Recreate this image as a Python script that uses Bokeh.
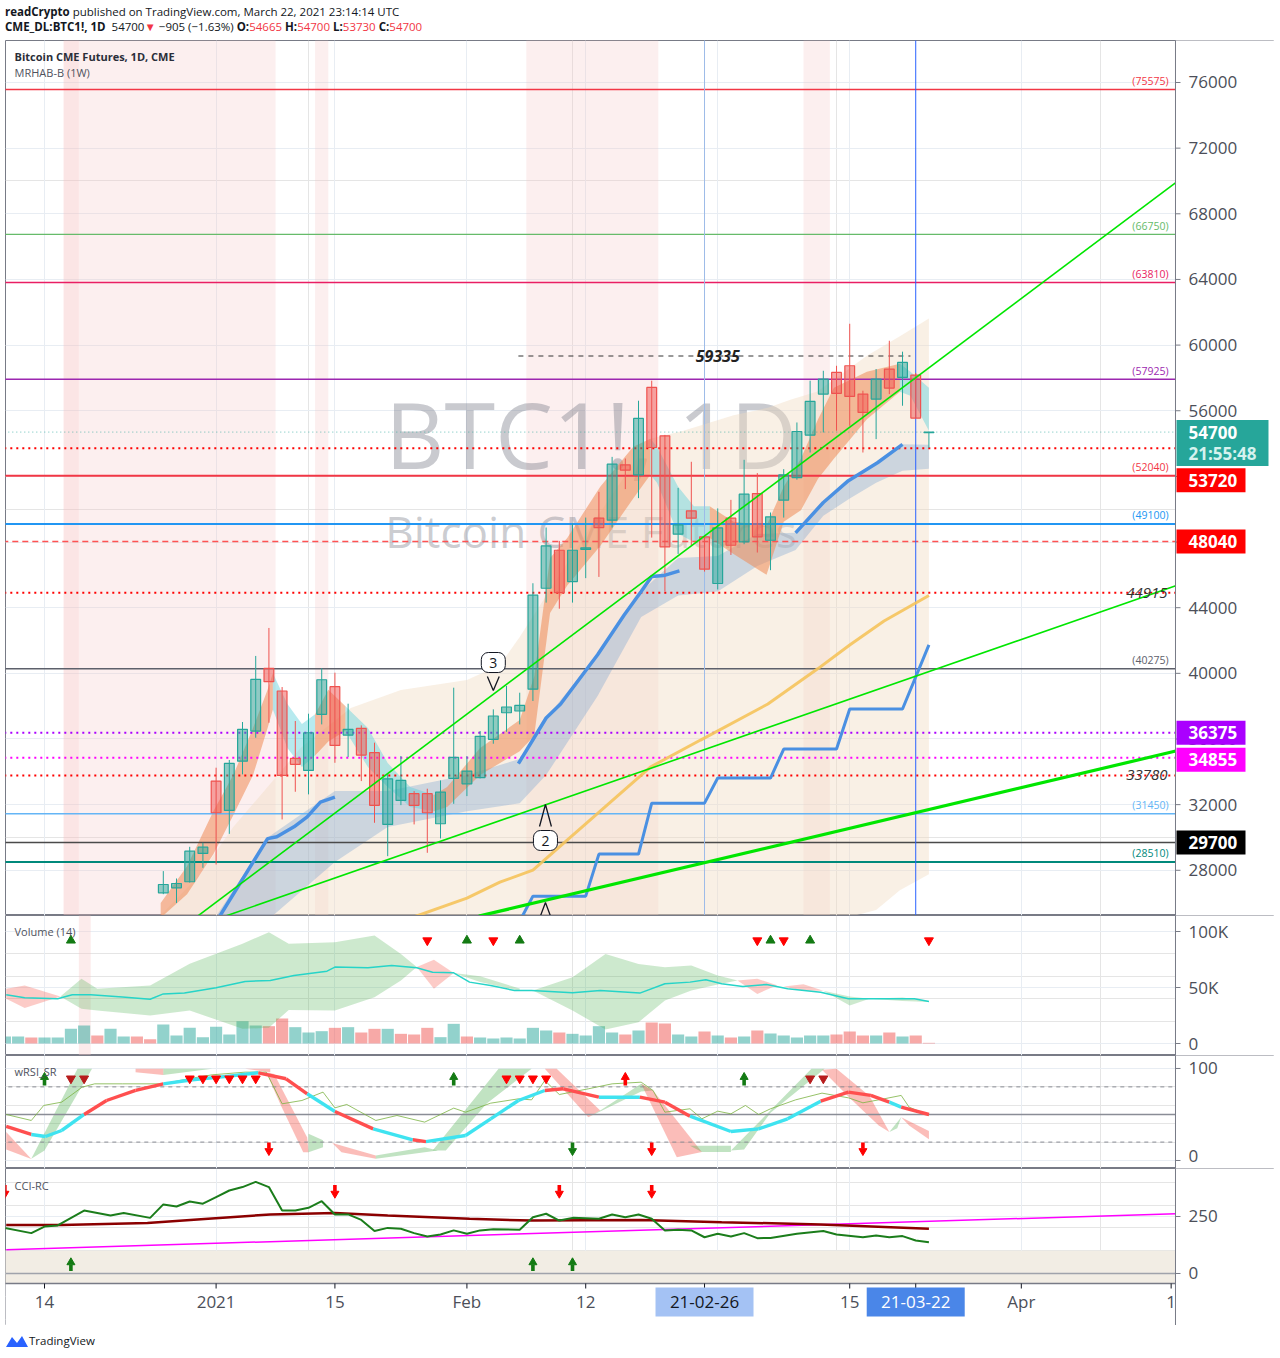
import numpy as np
from bokeh.plotting import figure
from bokeh.models import Range1d, FixedTicker, Label, Div, Grid
from bokeh.layouts import column
from bokeh.embed import file_html
from bokeh.resources import INLINE
from bokeh.core.properties import value

FONT = "Open Sans"
AXC = "#787b86"
TICKC = "#4c4f59"
GRIDC = "#e8edf3"
UP, DN = "#26a69a", "#ef5350"

# ---------------- x axis (bar index: 0 = 14 Dec 2020) ----------------
x_tick_idx = [0, 13, 22, 32, 41, 50, 61, 66, 74, 85.35]
x_tick_lbl = ["14", "2021", "15", "Feb", "12", "21-02-26", "15", "21-03-22", "Apr", "1"]
x_grid_idx = [0, 13, 22, 32, 41, 51, 61, 74]
marked_idx = [50, 66]

# ---------------- candles ----------------
bar_idx = list(range(9, 68))
opens = [26625, 26930, 27300, 29025, 33435, 31650, 34650, 36485, 40305, 38925, 34820, 34085, 37500, 39185,
         36240, 36650, 35165, 30795, 32255, 32665, 32665, 30835, 33600, 33270, 33640, 35980, 37600, 37705,
         39035, 45185, 47500, 45590, 47550, 49455, 49330, 52705, 52095, 57420, 54470, 48480, 49900, 48315,
         45475, 49455, 48010, 50955, 48110, 50550, 51930, 54515, 57015, 58335, 58740, 57015, 56710, 58540,
         58030, 58175, 54665]
highs = [27950, 27500, 29430, 29675, 34250, 34720, 37035, 41060, 42765, 39165, 37095, 37540, 40305, 40040,
         38150, 36830, 35775, 33845, 34960, 32825, 32970, 33475, 39125, 34960, 36485, 37805, 39230, 38820,
         45490, 48885, 48070, 49125, 49490, 51060, 53190, 53090, 56610, 57830, 54530, 51300, 52890, 48400,
         50050, 50570, 53010, 52200, 49800, 52440, 55285, 57830, 58435, 58740, 61300, 57220, 58540, 60265,
         59600, 58300, 54700]
lows = [26545, 26010, 27250, 28150, 28350, 30220, 33845, 36075, 36990, 31100, 32785, 32625, 36890, 34550,
        34900, 33435, 30895, 28860, 31970, 30795, 29065, 29940, 32050, 32520, 33600, 35710, 36440, 36890,
        38315, 44310, 43940, 44310, 45800, 45875, 48885, 51225, 50675, 48270, 44990, 47275, 47800, 46200,
        45110, 47215, 47870, 47360, 46285, 49490, 51800, 53455, 54675, 54780, 55085, 53455, 54270, 57015,
        56305, 55555, 53730]
closes = [27135, 27195, 29165, 29410, 31505, 34515, 36590, 39635, 39490, 33785, 34455, 36380, 39610, 35610,
          36590, 35020, 31955, 33575, 33475, 31955, 31505, 32765, 34880, 34045, 36160, 37400, 37950, 38050,
          44760, 47765, 44915, 47500, 47650, 48880, 52745, 52380, 55530, 53760, 47705, 49045, 49455, 46345,
          48860, 47805, 50915, 48315, 49535, 52095, 54735, 56570, 57930, 57060, 56870, 55895, 57930, 57380,
          58945, 55555, 54700]

price_ticks = [28000, 32000, 36000, 40000, 44000, 48000, 52000, 56000, 60000, 64000, 68000, 72000, 76000]

# horizontal levels
level_prices = [75575, 66750, 63810, 57925, 54700, 53720, 52040, 49100, 48040, 44915, 40275, 36375, 34855,
                33780, 31450, 29700, 28510]
level_tags = ["(75575)", "(66750)", "(63810)", "(57925)", "", "", "(52040)", "(49100)", "", "44915",
              "(40275)", "", "", "33780", "(31450)", "", "(28510)"]
box_prices = [54700, 53720, 48040, 36375, 34855, 29700]
countdown = "21:55:48"
dashed_level = 59335
dashed_span = [35.9, 65.6]

# moving averages / bands of the price pane
ma_a_x = [13.2, 16.9, 17.6, 18.9, 19.9, 20.9, 22.0]
ma_a_y = [25105, 29930, 30045, 30650, 31255, 32155, 32460]
ma_b_x = [35.9, 38.0, 39.1, 41.9, 43.9, 45.2, 46.0, 46.9, 48.1]
ma_b_y = [34500, 37280, 38130, 41130, 43545, 44990, 45905, 45955, 46240]
ma_c_x = [56.9, 59.0, 60.9, 63.1, 65.0]
ma_c_y = [48560, 50410, 51740, 52830, 53955]

cloud_x = [12.9, 16.9, 17.1, 22.0, 26.0, 32.0, 36.0, 38.0, 41.9, 45.2, 48.0, 51.0, 54.0, 56.9, 59.0, 61.0, 63.0, 65.0, 67.0]
cloud_hi = [25080, 29960, 30100, 32825, 32825, 33800, 34780, 37280, 41130, 44990, 47035, 47155, 48500, 48560, 50410, 51740, 52830, 53955, 53925]
cloud_lo = [24500, 24800, 25100, 28500, 30630, 31600, 32090, 33800, 38620, 43435, 44750, 44990, 46545, 47520, 49595, 50655, 51610, 52340, 52460]

slow_x = [27.7, 32, 34.5, 37, 42.1, 45.9, 49.7, 54.8, 58.6, 61, 63.6, 67]
slow_y = [25080, 26300, 27275, 28010, 31610, 34290, 35935, 38130, 40290, 41730, 43190, 44745]

wk_start = [32, 37, 42, 46, 51, 56, 61, 67]
wk_end = [36, 41, 45, 50, 55, 60, 65, 67]
wk_val = [24900, 26423, 28985, 32090, 33620, 35385, 37825, 41730]

env_hi_x = [8.5, 11.8, 14.3, 16.9, 19.4, 23.2, 27, 32, 34.5, 36, 41.6, 45.9, 48.4, 52.2, 54.8, 56.5, 58.5, 59.8, 62.3, 64.8, 67]
env_hi = [25000, 27765, 30630, 33070, 35450, 37890, 38985, 39590, 40510, 42215, 49230, 54290, 54780, 55720, 56180, 56670, 57160, 57890, 59350, 60535, 61620]
env_lo_x = [8.5, 61.2, 63, 64.8, 67]
env_lo = [24000, 25200, 25585, 26790, 27765]

fast_segments = [  # (state, x, upper, lower)
    ("s", [8.8, 10.8, 12.8, 14.3, 15.8, 16.9, 17.3], [26000, 28250, 31605, 33800, 36665, 39000, 40000],
     [25100, 26545, 28985, 31360, 33800, 36665, 37800]),
    ("c", [17.3, 18.4, 19.5, 20.5], [40000, 38130, 36910, 37500], [37800, 35450, 34290, 35000]),
    ("s", [20.5, 21.5, 22.8], [37500, 39000, 38000], [35000, 35850, 36500]),
    ("c", [22.8, 24.5, 26, 27.7, 29.5], [38000, 36665, 34530, 33070, 32580], [36500, 34290, 33070, 31850, 31600]),
    ("s", [29.5, 30.5, 33, 36, 37.1, 38.3, 39.6, 42.1, 44.6, 45.9],
     [32580, 33070, 35450, 37150, 39810, 47035, 48250, 51375, 53800, 54290],
     [31600, 31850, 33800, 35260, 36190, 43680, 45350, 47765, 50655, 52095]),
    ("c", [45.9, 46.4, 48, 49.2, 50.4], [54290, 53800, 51375, 50175, 50175], [52095, 51610, 48500, 48010, 48250]),
    ("s", [50.4, 52.2, 54.7, 56, 57.3, 58.6, 59.8, 62.3, 64.8],
     [50175, 49230, 49000, 51375, 53070, 55475, 57400, 58375, 58860],
     [48250, 47275, 46000, 49230, 49930, 51850, 53070, 55475, 57150]),
    ("c", [64.8, 65.6, 67], [58860, 58375, 57400], [57150, 56910, 54780]),
]

trend_lines = [((11.6, 25207), (85.7, 69900)), ((13.7, 25207), (85.7, 45330)), ((32.9, 25207), (85.7, 35265))]
hl_ranges = [(1.45, 17.5), (20.5, 21.5), (36.5, 46.5), (57.5, 59.5)]

# ---------------- volume pane ----------------
vol_ticks = [0, 50000, 100000]
vol_tick_lbl = ["0", "50K", "100K"]
vol_idx = list(range(-3, 68))
volumes = [6250, 6250, 5357, 5357, 5357, 13094, 16070, 7142, 13094, 6250, 6250, 3869, 16963, 7142, 13987,
           5654, 14880, 8035, 19939, 16070, 15475, 22320, 14582, 9821, 11011, 13987, 14582, 9821, 13094,
           13094, 8630, 8035, 13987, 5654, 17558, 6250, 5357, 4464, 5357, 4464, 13987, 11606, 9821, 8630,
           7142, 15475, 9821, 8035, 11606, 18749, 17856, 8035, 6250, 10714, 7142, 5357, 6250, 11606, 8928,
           7142, 5357, 7142, 7142, 8035, 10714, 7142, 7142, 9821, 6250, 7142, 595]
vol_dir = list("uuduuuuduu" "dduuuuuuuu" "dduuududdu" "ddduuduuuu" "uuduuuudud" "duudududuu" "uuudddudud" "d")
vol_ma_x = [-2.9, -1.5, 1.0, 2.1, 3.5, 5.9, 8.0, 9.0, 10.6, 13.0, 15.2, 17.1, 18.9, 21.4, 22.0, 24.5, 26.3, 28.2,
            29.4, 31.0, 32.2, 33.8, 35.6, 36.9, 40.0, 42.1, 45.1, 47.0, 48.9, 50.1, 51.3, 52.9, 54.7, 56.3,
            58.8, 60.9, 62.5, 65.9, 67.0]
vol_ma = [43.5, 40.8, 39.9, 43.5, 43.5, 41.6, 39.5, 44.3, 45.0, 49.8, 55.4, 56.3, 60.7, 64.6, 68.2, 67.6, 69.6,
          67.6, 63.7, 63.1, 54.8, 51.8, 47.3, 47.3, 45.3, 47.3, 45.0, 53.3, 54.8, 56.9, 53.3, 50.9, 52.7, 48.8,
          45.8, 39.9, 39.9, 39.9, 37.5]
vol_bands = [  # (state, x, upper K, lower K)
    ("d", [-2.9, -1.5, 1.2], [48.8, 51.8, 42.0], [39.9, 31.8, 42.0]),
    ("u", [1.2, 2.8, 4, 8, 11, 15, 17, 18.5, 22, 25, 27, 28.2],
     [42.0, 57.8, 48.8, 51.8, 71.1, 89.0, 99.4, 89.0, 90.5, 96.4, 80.0, 68.2],
     [42.0, 31.0, 29.5, 25.0, 29.5, 13.1, 14.0, 30.0, 29.5, 41.4, 56.3, 68.2]),
    ("d", [28.2, 29.5, 31.0], [68.2, 74.7, 63.0], [68.2, 48.8, 63.0]),
    ("u", [31, 33, 36], [63, 60, 49], [63, 55, 47]),
    ("u", [37, 40, 42.5, 45, 47, 49, 51, 52.5], [47.3, 59.2, 80, 71, 68, 69.6, 60.7, 56.3],
     [47.3, 29.5, 12.5, 19, 38.4, 47.3, 52.7, 56.3]),
    ("d", [52.5, 54, 55.5], [56.3, 57.8, 52], [56.3, 44.3, 52]),
    ("d", [56, 57.5, 59], [51, 53, 47], [51, 47, 47]),
    ("u", [59, 61, 62.5], [47, 42, 40], [47, 34, 40]),
    ("u", [62.5, 65, 67], [40, 41, 38], [40, 38, 37]),
]
vol_sig_up = [2, 32, 36, 55, 58]
vol_sig_dn = [29, 34, 54, 56, 67]

# ---------------- wRSI pane ----------------
rsi_ticks = [0, 100]
rsi_tick_lbl = ["0", "100"]
wrsi_x = [-2.9, -1.0, 0.07, 1.3, 3.0, 4.7, 6.9, 9.0, 11.2, 14.0, 16.2, 18.3, 19.9, 22.0, 24.9, 27.9, 28.9, 31.9,
          33.8, 35.9, 37.9, 39.3, 42.0, 45.1, 47.0, 48.9, 52.0, 54.1, 56.3, 58.8, 60.9, 62.6, 64.0, 64.9, 67]
wrsi_y = [37, 28.3, 26.1, 32.6, 50, 65.2, 76.1, 83.3, 87.7, 91.7, 95.3, 88.8, 72.5, 53.3, 34.4, 22.5, 20.5, 27.2,
          45.3, 65.2, 76.1, 77.9, 68.8, 68.8, 63.4, 48.2, 31.5, 34.4, 45.3, 64.5, 74.3, 70.7, 63.5, 58, 50]
wrsi_state = list("rcccrrrcccrrcrcrccccrrcrrccccrrrcr")
wsig_x = [-2.9, -1.0, -0.06, 1.3, 2.85, 3.8, 5.9, 9.0, 10.9, 12.7, 15.2, 16.8, 18.0, 19.5, 21.1, 22.0, 22.9, 25.1,
          26.7, 28.8, 31.0, 31.9, 33.8, 35.9, 36.9, 37.9, 39.0, 41.2, 43.0, 45.2, 46.1, 47.0, 48.9, 49.8, 51.0,
          52.0, 53.1, 54.1, 55.0, 56.9, 58.9, 60.9, 62.0, 63.6, 64.9, 65.5, 67.0]
wsig_y = [50, 43.5, 59.8, 63.4, 79.7, 83.3, 83.3, 83.3, 88.8, 93.1, 96, 96, 61.6, 65.2, 74.3, 57.2, 60.9, 43.5,
          48.9, 41.7, 56.9, 52.5, 62.3, 67, 65.9, 86.9, 71.7, 77.9, 83.3, 85.1, 76.1, 52.5, 56.2, 45.3, 53.6,
          50.7, 59.8, 50, 56.2, 65.9, 73.2, 68.1, 62.7, 67, 70.7, 58, 48.9]
wrsi_fills = [
    ("d", [-2.9, -1.0, -2.9], [31, 1.5, 12]),
    ("u", [-1.0, 2.5, 3.6, 0.0], [1.8, 99.6, 99.6, 10.9]),
    ("d", [6.9, 9.0, 9.0, 6.9], [99.6, 99.6, 93, 96]),
    ("u", [9.0, 12.7, 9.0], [93, 99.6, 99.6]),
    ("d", [15.2, 17.1, 17.1], [99.6, 99.6, 96]),
    ("d", [16.8, 17.4, 19.9, 20.0, 19.6, 17.9], [96, 94, 25, 9, 9, 60]),
    ("u", [20.0, 21.1, 21.1, 20.0], [29, 22, 14.5, 9]),
    ("d", [21.8, 25.1, 25.1, 22.5], [19, 5.5, 1.8, 9]),
    ("u", [25.1, 28.8, 29.8, 25.1], [5.5, 14.5, 10.9, 1.8]),
    ("u", [29.4, 34.4, 36.9, 33.5, 30.4], [10.9, 99.6, 99.6, 62, 10.9]),
    ("d", [37.9, 38.8, 42.1, 41.2], [99.6, 99.6, 54.3, 47.1]),
    ("u", [41.2, 42.1, 45.2, 46.1, 45.2], [47.1, 54.3, 83.3, 76.1, 75]),
    ("d", [45.2, 46.1, 49.8, 47.9], [83.3, 76.1, 9.1, 3.6]),
    ("u", [48.9, 52.0, 52.0, 49.8], [16, 16, 9.1, 9.1]),
    ("u", [52.0, 58.1, 59.1, 55.0, 53.0], [10.9, 99.6, 99.6, 52, 12]),
    ("d", [58.9, 60.0, 62.5, 64.0, 63.2, 61.0], [98.6, 99.6, 70, 31, 38, 68]),
    ("u", [64.0, 64.9, 64.6], [31, 47.1, 35]),
    ("d", [64.9, 67.0, 67.0, 65.5], [47.1, 32, 23, 38]),
]
wrsi_up_arrow = [0, 31, 53]
wrsi_dn_tri = [11, 12, 13, 14, 15, 16, 35, 36, 37, 38]
wrsi_dn_tri_dark = [2, 3, 58, 59]
wrsi_red_up = [44]
wrsi_bot_red = [17, 46, 62]
wrsi_bot_green = [40]
wrsi_levels = [80, 50, 20]

# ---------------- CCI pane ----------------
cci_ticks = [0, 250]
cci_tick_lbl = ["0", "250"]
cci_x = [-3, -1, 0, 1, 3, 5, 6, 8, 9, 10, 11, 12, 13, 14, 15, 16, 17, 18, 19, 20, 21, 22, 23, 24, 25, 26, 27,
         28, 29, 30, 31, 32, 33, 34, 36, 37, 38, 39, 40, 42, 43, 44, 45, 46, 47, 48, 49, 50, 51, 52, 53, 54,
         55, 57, 59, 60, 62, 63, 64, 65, 66, 67]
cci_y = [200, 177, 206, 211, 276, 254, 265, 244, 303, 294, 316, 306, 335, 364, 379, 402, 379, 276, 276, 288,
         317, 259, 259, 235, 186, 200, 196, 177, 162, 171, 189, 174, 189, 194, 192, 247, 262, 232, 244, 240,
         259, 247, 259, 240, 189, 192, 189, 159, 174, 162, 177, 155, 156, 174, 186, 171, 159, 167, 159, 164,
         145, 137]
cci_ma_x = [-2.9, 1.3, 7.8, 12.4, 17.1, 22.0, 26, 32.2, 36.9, 45.2, 51.3, 58.8, 67]
cci_ma = [213, 213, 221, 240, 259, 265, 254, 240, 232, 235, 225, 215, 196]
cci_trend = [(-2.9, 104), (85.7, 262)]
cci_zone = [-43.9, 100]
cci_top_red = [-3, 22, 39, 46]
cci_bot_green = [2, 37, 40]

# ---------------- geometry ----------------
BAR_PX = 13.2                 # pixels per bar
X0, XR = -2.955, 93.18        # full frame width (page x 5 .. 1274)
AXIS_X = 85.68                # price-scale edge (page x 1175)
P0, P1 = 25245, 78559
PS = (P1 - P0) / 875.0
W = 1269
xr = Range1d(X0, XR)


def px(n):
    return n / BAR_PX


def make_fig(h, y0, y1, yticks):
    f = figure(width=W, height=h, x_range=xr, y_range=Range1d(y0, y1), output_backend="svg",
               toolbar_location=None, x_axis_location=None, y_axis_location=None, min_border=0)
    f.outline_line_color = AXC
    f.border_fill_color = None
    f.background_fill_color = "white"
    f.add_layout(Grid(dimension=0, ticker=FixedTicker(ticks=x_grid_idx), grid_line_color=GRIDC))
    f.add_layout(Grid(dimension=1, ticker=FixedTicker(ticks=yticks), grid_line_color=GRIDC))
    return f


def price_scale(f, y0, y1, h, ticks, labels, nudge=None):
    upp = (y1 - y0) / h
    f.quad(left=AXIS_X, right=XR + 1, bottom=y0 - 10 * (y1 - y0), top=y1 + 10 * (y1 - y0),
           fill_color="white", line_alpha=0)
    f.segment(x0=AXIS_X, y0=y0 - 10 * (y1 - y0), x1=AXIS_X, y1=y1 + 10 * (y1 - y0), line_color=AXC, line_width=1)
    n = len(ticks)
    f.segment(x0=[AXIS_X] * n, y0=ticks, x1=[AXIS_X + px(5)] * n, y1=ticks, line_color=AXC, line_width=1)
    nudge = nudge or [0] * n
    f.text(x=[AXIS_X + px(13)] * n, y=[t + d * upp for t, d in zip(ticks, nudge)], text=labels,
           text_font=value(FONT), text_font_size="17px", text_color=TICKC, text_align="left",
           text_baseline="middle")


def arrows(f, xs, y, upp, down, color):
    n = len(xs)
    if n == 0:
        return
    s = 1 if down else -1
    f.rect(x=xs, y=[y + s * 4 * upp] * n, width=px(3.6), height=6, height_units="screen",
           fill_color=color, line_alpha=0)
    f.scatter(xs, [y - s * 1.5 * upp] * n, marker="inverted_triangle" if down else "triangle", size=8,
              color=color)


def lab(f, x, y, text, color="#131722", size="11px", style="normal", align="left", baseline="middle",
        bg=None, pad=None, border=None, radius=0):
    kw = dict(x=x, y=y, text=text, text_color=color, text_font_size=size, text_font_style=style,
              text_align=align, text_baseline=baseline, text_font=FONT)
    if bg:
        kw["background_fill_color"] = bg
    if pad is not None:
        kw["padding"] = pad
    if border:
        kw["border_line_color"] = border
        kw["border_line_width"] = 1
    if radius:
        kw["border_radius"] = radius
    f.add_layout(Label(**kw))


def yv(pix):
    return P1 - (pix - 40) * PS


# ================= price pane =================
pp = make_fig(875, P0, P1, price_ticks)

for (a, b) in hl_ranges:
    pp.quad(left=a, right=b, bottom=P0 - 5000, top=P1 + 5000, fill_color="#f5c6c6", fill_alpha=0.28, line_alpha=0)
pp.quad(left=hl_ranges[0][0], right=2.6, bottom=P0 - 5000, top=P1 + 5000, fill_color="#f7b5b5", fill_alpha=0.18, line_alpha=0)

pp.text(x=[41.4], y=[54614], text=["BTC1!, 1D"], text_font=value(FONT), text_font_size="92px",
        text_align="center", text_baseline="middle", text_color="#787b86", text_alpha=0.4)
pp.text(x=[41.4], y=[48703], text=["Bitcoin CME Futures"], text_font=value(FONT), text_font_size="44px",
        text_align="center", text_baseline="middle", text_color="#787b86", text_alpha=0.38)

env_px = list(env_hi_x) + list(env_lo_x[::-1])
env_py = list(env_hi) + list(env_lo[::-1])
pp.patch(env_px, env_py, fill_color="#f0dcc0", fill_alpha=0.42, line_alpha=0)
pp.varea(x=cloud_x, y1=cloud_lo, y2=cloud_hi, fill_color="#6f9fd0", fill_alpha=0.33)
for st, xs, hi, lo in fast_segments:
    if st == "s":
        pp.varea(x=xs, y1=lo, y2=hi, fill_color="#ee8a55", fill_alpha=0.55)
    else:
        pp.varea(x=xs, y1=lo, y2=hi, fill_color="#5fd0dc", fill_alpha=0.45)

lvl_color = ["#f23645", "#66bb6a", "#e91e63", "#9c27b0", "#26a69a", "#ff0000", "#f23645", "#2196f3", "#ff5252",
             "#ff0000", "#5d606b", "#aa00ff", "#ff00ff", "#ff0000", "#64b5f6", "#4a4a4a", "#00897b"]
lvl_dash = ["solid", "solid", "solid", "solid", "1 3", "2 4", "solid", "solid", "6 4", "2 4", "solid", "2 4",
            "2 4", "2 4", "solid", "solid", "solid"]
lvl_width = [1.5, 1.2, 1.5, 1.5, 1, 2, 2, 2, 1.5, 2, 1.5, 2, 2, 2, 1.5, 1.5, 2]
for pr, c, d, w in zip(level_prices, lvl_color, lvl_dash, lvl_width):
    pp.segment(x0=X0 - 1, y0=pr, x1=AXIS_X, y1=pr, line_color=c, line_dash=d, line_width=w,
               line_alpha=0.7 if pr == 54700 else 1.0)
pp.segment(x0=dashed_span[0], y0=dashed_level, x1=dashed_span[1], y1=dashed_level, line_color="#333333",
           line_dash="5 5", line_width=1)

pp.segment(x0=marked_idx[0], y0=P0 - 5000, x1=marked_idx[0], y1=P1 + 5000, line_color="#9dbbe8", line_width=1)
pp.segment(x0=marked_idx[1], y0=P0 - 5000, x1=marked_idx[1], y1=P1 + 5000, line_color="#2962ff", line_width=1)

cx = np.array(bar_idx, dtype=float)
o, h, l, c = (np.array(a, dtype=float) for a in (opens, highs, lows, closes))
up = c >= o
for m, col in ((up, UP), (~up, DN)):
    pp.segment(x0=cx[m], y0=h[m], x1=cx[m], y1=l[m], line_color=col, line_width=1)
    pp.vbar(x=cx[m], top=np.maximum(o, c)[m], bottom=np.minimum(o, c)[m], width=0.74, fill_color=col,
            fill_alpha=0.5, line_color=col, line_width=1.2)

for xs, ys in ((ma_a_x, ma_a_y), (ma_b_x, ma_b_y), (ma_c_x, ma_c_y)):
    pp.line(xs, ys, line_color="#4a90e2", line_width=3.5)
pp.line(slow_x, slow_y, line_color="#f5c35b", line_width=3, line_alpha=0.9)
stx, sty = [], []
for a, b, v in zip(wk_start, wk_end, wk_val):
    stx += [a, b]
    sty += [v, v]
pp.line(stx, sty, line_color="#4a90e2", line_width=3)

for i, ((xa_, ya_), (xb, yb)) in enumerate(trend_lines):
    pp.line([xa_, xb], [ya_, yb], line_color="#00e600", line_width=3.2 if i == 2 else 1.6)

lab(pp, 34.0, yv(662), "3", size="14px", align="center", bg="white", pad=dict(left=8, right=8, top=5, bottom=5),
    border="#131722", radius=7)
pp.line([33.55, 34.0, 34.45], [yv(676), yv(690), yv(676)], line_color="#131722", line_width=1.3)
lab(pp, 37.95, yv(840), "2", size="14px", align="center", bg="white", pad=dict(left=8, right=8, top=5, bottom=5),
    border="#131722", radius=7)
pp.line([37.5, 37.95, 38.4], [yv(826), yv(804), yv(826)], line_color="#131722", line_width=1.3)
pp.line([37.5, 37.95, 38.4], [yv(918), yv(902), yv(918)], line_color="#131722", line_width=1.3)

tag_color = dict(zip(level_prices, lvl_color))
for pr, t in zip(level_prices, level_tags):
    if not t:
        continue
    if t.startswith("("):
        lab(pp, 85.15, pr + 1.5 * PS, t, color=tag_color[pr], size="10.5px", align="right", baseline="bottom")
    else:
        lab(pp, 85.08, pr, t, color="#333333", size="15px", style="italic", align="right")
lab(pp, 51.0, dashed_level, str(dashed_level), color="#222222", size="16px", style="bold italic", align="center")

lab(pp, -2.27, yv(56), "Bitcoin CME Futures, 1D, CME", size="11px", style="bold", color="#2a2e39")
lab(pp, -2.27, yv(72), "MRHAB-B (1W)", size="11px", color="#50535e")

# price scale with the marked price boxes
price_scale(pp, P0, P1, 875, price_ticks, [str(t) for t in price_ticks])
box_color = [UP, "#ff0000", "#ff0000", "#aa00ff", "#ff00ff", "#000000"]
box_shift = [0, 32, 0, 0, 2, 0]
for pr, col, dy in zip(box_prices, box_color, box_shift):
    yc = pr - dy * PS
    if pr == box_prices[0]:
        pp.quad(left=AXIS_X + px(1), right=AXIS_X + px(93), top=yc + 12 * PS, bottom=yc - 34 * PS,
                fill_color=col, line_alpha=0)
        pp.text(x=[AXIS_X + px(13)], y=[yc - 21 * PS], text=[countdown], text_font=value(FONT),
                text_font_size="17px", text_font_style="bold", text_color="#d5f2ee", text_baseline="middle")
    else:
        pp.quad(left=AXIS_X + px(1), right=AXIS_X + px(70), top=yc + 12 * PS, bottom=yc - 12 * PS,
                fill_color=col, line_alpha=0)
    pp.text(x=[AXIS_X + px(13)], y=[yc], text=[str(pr)], text_font=value(FONT), text_font_size="17px",
            text_font_style="bold", text_color="white", text_baseline="middle")

# ================= volume pane =================
V0, V1 = -10714, 114286
pv = make_fig(140, V0, V1, vol_ticks)
pv.quad(left=2.6, right=3.5, bottom=-20000, top=200000, fill_color="#f5c6c6", fill_alpha=0.35, line_alpha=0)
vi = np.array(vol_idx, dtype=float)
vv = np.array(volumes, dtype=float)
vd = np.array(vol_dir)
for key, col in (("u", UP), ("d", DN)):
    m = vd == key
    pv.vbar(x=vi[m], top=vv[m], bottom=0, width=0.92, fill_color=col, fill_alpha=0.5, line_alpha=0)
for st, xs, hi, lo in vol_bands:
    pv.varea(x=xs, y1=[v * 1000 for v in lo], y2=[v * 1000 for v in hi],
             fill_color="#4caf50" if st == "u" else "#f44336", fill_alpha=0.28)
pv.line(vol_ma_x, [v * 1000 for v in vol_ma], line_color="#26d4c8", line_width=1.5)
pv.scatter(vol_sig_up, [92000] * len(vol_sig_up), marker="triangle", size=9, color="#137a13")
pv.scatter(vol_sig_dn, [92000] * len(vol_sig_dn), marker="inverted_triangle", size=9, color="#ff0000")
lab(pv, -2.27, 100000, "Volume (14)", size="11px", color="#50535e")
price_scale(pv, V0, V1, 140, vol_ticks, vol_tick_lbl)

# ================= wRSI pane =================
R0, R1 = -8.7, 114.1
RU = (R1 - R0) / 113.0
pr_ = make_fig(113, R0, R1, rsi_ticks)
for st, xs, ys in wrsi_fills:
    pr_.patch(xs, ys, fill_color="#4caf50" if st == "u" else "#f44336", fill_alpha=0.35, line_alpha=0)
for lv in wrsi_levels:
    if lv == 50:
        pr_.segment(x0=X0 - 1, y0=lv, x1=AXIS_X, y1=lv, line_color="#8a8d96", line_width=1.5)
    else:
        pr_.segment(x0=X0 - 1, y0=lv, x1=AXIS_X, y1=lv, line_color="#8a8d96", line_width=1, line_dash="4 4")
pr_.line(wsig_x, wsig_y, line_color="#7cb342", line_width=1, line_alpha=0.8)
xs_s = [[wrsi_x[i], wrsi_x[i + 1]] for i in range(len(wrsi_state))]
ys_s = [[wrsi_y[i], wrsi_y[i + 1]] for i in range(len(wrsi_state))]
cols = ["#ff4f4f" if s == "r" else "#3fe3f0" for s in wrsi_state]
pr_.multi_line(xs_s, ys_s, line_color=cols, line_width=3.4)
arrows(pr_, wrsi_up_arrow, 89, RU, False, "#137a13")
arrows(pr_, wrsi_red_up, 89, RU, False, "#ff0000")
pr_.scatter(wrsi_dn_tri, [89] * len(wrsi_dn_tri), marker="inverted_triangle", size=9, color="#ff0000")
pr_.scatter(wrsi_dn_tri_dark, [89] * len(wrsi_dn_tri_dark), marker="inverted_triangle", size=9, color="#b71c1c")
arrows(pr_, wrsi_bot_red, 12, RU, True, "#ff0000")
arrows(pr_, wrsi_bot_green, 12, RU, True, "#137a13")
lab(pr_, -2.27, 96.7, "wRSI_SR", size="11px", color="#50535e")
price_scale(pr_, R0, R1, 113, rsi_ticks, rsi_tick_lbl, nudge=[4, 0])

# ================= CCI pane + time scale =================
C0, C1 = -228.1, 460.5
CS = (C1 - C0) / 157.0        # CCI units per pixel
CB = -43.9                    # bottom of the CCI pane (top of the time scale)
pc = make_fig(157, C0, C1, cci_ticks)
pc.quad(left=X0 - 1, right=XR + 1, bottom=cci_zone[0], top=cci_zone[1], fill_color="#f2ede4", line_alpha=0)
pc.segment(x0=X0 - 1, y0=0, x1=AXIS_X, y1=0, line_color="#a0a3ab", line_width=1.5)
pc.line([cci_trend[0][0], cci_trend[1][0]], [cci_trend[0][1], cci_trend[1][1]], line_color="#ff00ff", line_width=1.5)
pc.line(cci_ma_x, cci_ma, line_color="#8b0000", line_width=2.5)
pc.line(cci_x, cci_y, line_color="#1b7d1b", line_width=2)
arrows(pc, cci_top_red, 357, CS, True, "#ff0000")
arrows(pc, cci_bot_green, 42, CS, False, "#137a13")
lab(pc, -2.27, 386, "CCI-RC", size="11px", color="#50535e")

# time scale
pc.quad(left=X0 - 1, right=XR + 1, bottom=C0 - 100, top=CB, fill_color="white", line_alpha=0)
pc.segment(x0=X0 - 1, y0=CB, x1=XR + 1, y1=CB, line_color=AXC, line_width=1.5)
nt = len(x_tick_idx)
pc.segment(x0=x_tick_idx, y0=[CB] * nt, x1=x_tick_idx, y1=[CB - 5 * CS] * nt, line_color="#131722", line_width=1)
plain = [(x, t) for x, t in zip(x_tick_idx, x_tick_lbl) if x not in marked_idx]
pc.text(x=[p[0] for p in plain], y=[CB - 18 * CS] * len(plain), text=[p[1] for p in plain],
        text_font=value(FONT), text_font_size="17px", text_color=TICKC, text_align="center",
        text_baseline="middle")
mk_bg = ["#a4c2f4", "#4a86e8"]
mk_fg = ["#131722", "white"]
for mi, bg, fg in zip(marked_idx, mk_bg, mk_fg):
    pc.quad(left=mi - px(49), right=mi + px(49), top=CB - 4 * CS, bottom=CB - 33 * CS, fill_color=bg, line_alpha=0)
    pc.text(x=[mi], y=[CB - 18 * CS], text=[x_tick_lbl[x_tick_idx.index(mi)]], text_font=value(FONT),
            text_font_size="17px", text_color=fg, text_align="center", text_baseline="middle")
price_scale(pc, C0, C1, 157, cci_ticks, cci_tick_lbl)

header = Div(text=(
    '<div style="font-family:\'Open Sans\';font-size:11.5px;line-height:15px;color:#131722;'
    'margin:4px 0 0 0;white-space:nowrap">'
    '<b>readCrypto</b> published on TradingView.com, March 22, 2021 23:14:14 UTC<br>'
    '<b>CME_DL:BTC1!, 1D</b>&nbsp; 54700<span style="color:#f23645">&#9660;</span> &minus;905 (&minus;1.63%) '
    '<b>O:</b><span style="color:#f23645">54665</span> <b>H:</b><span style="color:#f23645">54700</span> '
    '<b>L:</b><span style="color:#f23645">53730</span> <b>C:</b><span style="color:#f23645">54700</span></div>'),
    width=W, height=40, margin=(0, 0, 0, 0))
footer = Div(text=(
    '<div style="display:flex;align-items:center;font-family:\'Open Sans\';font-size:11.5px;color:#131722;'
    'margin:8px 0 0 0"><svg width="24" height="14" viewBox="0 0 24 14">'
    '<path d="M1 13 L7 3 L12 9 L17 2 L23 13 Z" fill="#2962ff"/></svg><span>TradingView</span></div>'),
    width=300, height=30, margin=(0, 0, 0, 0))

layout = column(header, pp, pv, pr_, pc, footer, spacing=0, margin=(0, 0, 0, 5))
open("out.html", "w").write(file_html(layout, INLINE))
